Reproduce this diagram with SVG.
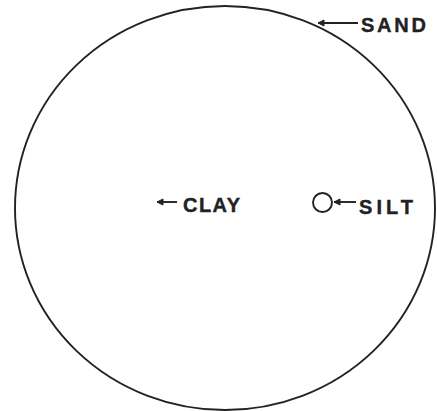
<svg xmlns="http://www.w3.org/2000/svg" width="437" height="411" viewBox="0 0 437 411">
<style>
.lbl{font-family:"Liberation Sans",Arial,sans-serif;font-weight:bold;font-size:20px;fill:#222;stroke:#222;stroke-width:0.4}
.ln{fill:none;stroke:#222;stroke-width:1.9}
</style>
<defs>
<marker id="ah" viewBox="0 0 8 8" refX="7" refY="4" markerWidth="8" markerHeight="8" markerUnits="userSpaceOnUse" orient="auto">
<path d="M1,1 L7,4 L1,7 Z" fill="#222" stroke="#222" stroke-width="1"/>
</marker>
</defs>
<rect width="437" height="411" fill="#fff"/>
<g id="outer">
<ellipse class="ln" cx="225" cy="208" rx="210" ry="202"/>
</g>
<g id="silt-particle">
<ellipse class="ln" cx="322.5" cy="202.5" rx="9.5" ry="9.5"/>
</g>
<g id="connectors">
<line class="ln" x1="358" y1="23" x2="318" y2="23" marker-end="url(#ah)"/>
<line class="ln" x1="177" y1="202" x2="157" y2="202" marker-end="url(#ah)"/>
<line class="ln" x1="356" y1="202" x2="334" y2="202" marker-end="url(#ah)"/>
</g>
<g id="sand"><text class="lbl" x="361" y="32" textLength="65" lengthAdjust="spacing">SAND</text></g>
<g id="clay"><text class="lbl" x="183" y="212" textLength="57" lengthAdjust="spacing">CLAY</text></g>
<g id="silt"><text class="lbl" x="359" y="214" textLength="54" lengthAdjust="spacing">SILT</text></g>
</svg>
